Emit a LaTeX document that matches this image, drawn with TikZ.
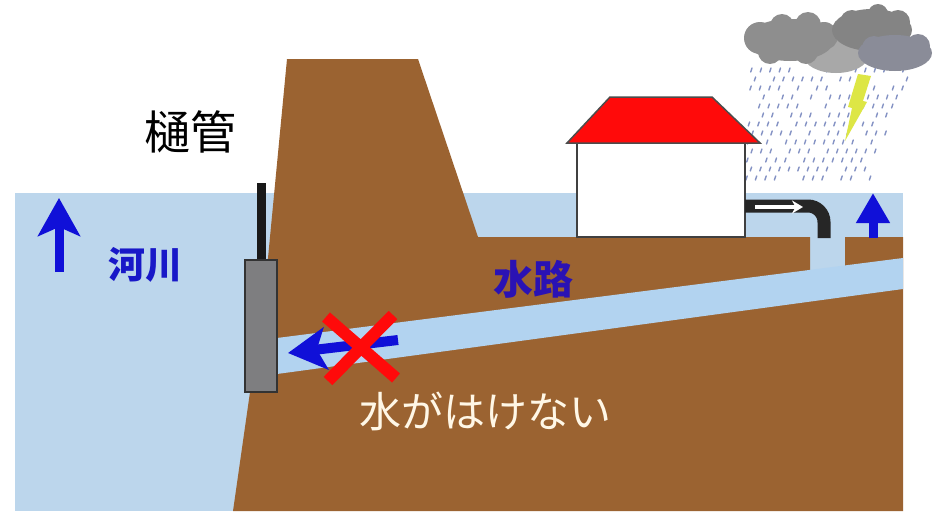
\documentclass[tikz,border=0pt]{standalone}
\usepackage{fontspec}
\newfontfamily\jp{Noto Sans CJK JP}
\usetikzlibrary{arrows.meta}

\definecolor{earth}{HTML}{9B6331}
\definecolor{river}{HTML}{BCD6EC}
\definecolor{channel}{HTML}{B2D3F0}
\definecolor{flowblue}{HTML}{1010D8}
\definecolor{labelblue}{HTML}{1818C8}
\definecolor{routeblue}{HTML}{2A12B4}
\definecolor{gategray}{HTML}{7E7E80}
\definecolor{roofred}{HTML}{FF0A0A}
\definecolor{pipeblack}{HTML}{262626}
\definecolor{cloudA}{HTML}{8E8E8E}
\definecolor{cloudB}{HTML}{848484}
\definecolor{cloudC}{HTML}{A8A8A8}
\definecolor{cloudD}{HTML}{8A8C98}
\definecolor{rain}{HTML}{8492C4}
\definecolor{bolt}{HTML}{DDE645}
\definecolor{cream}{HTML}{FFF7E6}

\tikzset{
  ground/.style={fill=earth, draw=none},
  water/.style={fill=river, draw=none},
  flowarrow/.style={draw=flowblue, line width=9pt,
    -{Stealth[length=38pt, width=42pt, inset=9pt]}},
  risearrow/.style={draw=flowblue, line width=9pt,
    -{Triangle[length=30pt, width=32pt]}},
  raindrop/.style={draw=rain, line width=1.4pt, line cap=round},
  label/.style={inner sep=0pt, font=\jp},
}

\begin{document}
\begin{tikzpicture}[x=1pt, y=-1pt]
  \useasboundingbox (0,0) rectangle (946,514);
  \fill[white] (0,0) rectangle (946,514);

  % river and the water standing over the low ground
  \fill[water] (15,193) rectangle (903,511);

  % embankment and ground
  \fill[ground] (287,59) -- (418,59) -- (478,237) -- (810,237) -- (810,275)
    -- (845,270) -- (845,237) -- (903,237) -- (903,511) -- (233,511)
    -- (250,392) -- (268,258) -- cycle;

  % drainage channel under the embankment
  \fill[channel] (277,338) -- (903,258) -- (903,289) -- (277,374) -- cycle;

  % sluice gate with its rod
  \fill[black!90] (257,183) rectangle (266,262);
  \filldraw[fill=gategray, draw=black!80, line width=1.5pt] (245,260) rectangle (277,392);

  % rain
  \pgfmathsetseed{17}
  \foreach \row in {0,...,12}{
    \pgfmathsetmacro\yy{68+\row*9}
    \pgfmathsetmacro\xl{752-\row*0.4+mod(\row,2)*4}
    \pgfmathsetmacro\xr{912-\row*3.4}
    \foreach \col in {0,...,17}{
      \pgfmathsetmacro\xx{\xl+\col*9.5}
      \pgfmathtruncatemacro\ok{(\xx<\xr && rnd>0.22) ? 1 : 0}
      \ifnum\ok=1
        \draw[raindrop] (\xx,\yy) -- ++(-1.3,4);
      \fi
    }
  }

  % lightning
  \fill[bolt] (858,74) -- (871,76) -- (863,101) -- (867,102) -- (845,141)
    -- (852,108) -- (848,107) -- cycle;

  % storm clouds
  \fill[cloudC] (836,56) ellipse (32 and 17);
  \fill[cloudA] (790,40) ellipse (44 and 21)
    (760,38) circle (16) (782,26) circle (12) (808,25) circle (13)
    (824,36) circle (14) (770,52) circle (12) (806,52) circle (12);
  \fill[cloudB] (872,30) ellipse (40 and 21)
    (852,22) circle (12) (878,14) circle (10) (898,22) circle (12);
  \fill[cloudD] (895,53) ellipse (37 and 18)
    (918,46) circle (12) (874,48) circle (12);

  % house
  \filldraw[fill=white, draw=black!75, line width=2pt] (577,143) rectangle (745,237);
  \filldraw[fill=roofred, draw=black!70, line width=1.5pt]
    (567,143) -- (610,97) -- (712,97) -- (760,143) -- cycle;

  % drain pipe from the house
  \draw[pipeblack, line width=13pt, rounded corners=16pt]
    (745,206) -- (824,206) -- (824,238);
  \coordinate (pipeIn) at (755,207);
  \coordinate (pipeOut) at (803,207);
  \draw[white, line width=3.5pt, -{Stealth[length=11pt, width=13pt]}] (pipeIn) -- (pipeOut);

  % water level rising arrows
  \coordinate (riverLow) at (59,272);
  \coordinate (riverHigh) at (59,198);
  \draw[flowarrow] (riverLow) -- (riverHigh);
  \coordinate (fieldLow) at (873,238);
  \coordinate (fieldHigh) at (873,193);
  \draw[risearrow] (fieldLow) -- (fieldHigh);

  % blocked outflow through the channel
  \coordinate (flowFrom) at (398,340);
  \coordinate (flowTo) at (288,353);
  \draw[flowarrow, line width=10pt] (flowFrom) -- (flowTo);
  \draw[roofred, line width=12pt] (326,317) -- (396,378) (393,315) -- (328,381);

  % labels
  \node[label, font=\jp\fontsize{46}{50}\selectfont] (gate) at (190,132) {樋管};
  \node[label, text=labelblue, font=\jp\bfseries\fontsize{37}{40}\selectfont] (river) at (145,265) {河川};
  \node[label, text=routeblue, font=\jp\bfseries\fontsize{40}{44}\selectfont] (route) at (533,279) {水路};
  \node[label, text=cream, font=\jp\fontsize{42}{46}\selectfont] (blocked) at (485,411) {水がはけない};
\end{tikzpicture}
\end{document}
